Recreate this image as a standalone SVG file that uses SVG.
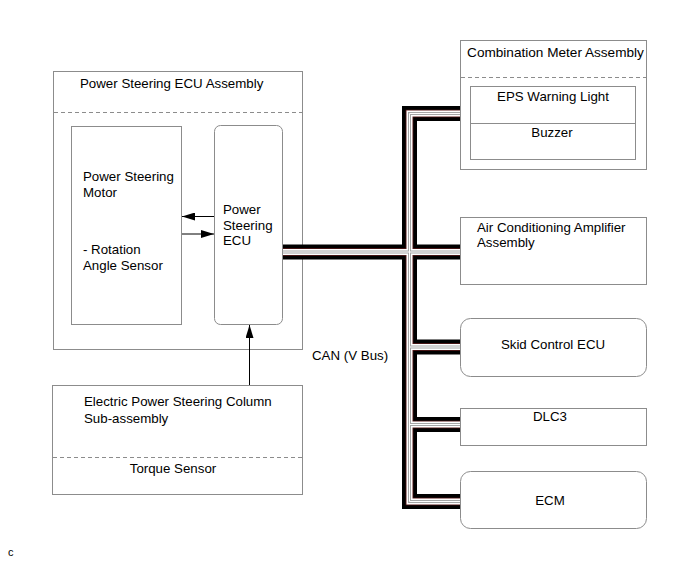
<svg xmlns="http://www.w3.org/2000/svg" xmlns:xlink="http://www.w3.org/1999/xlink" width="694" height="562" viewBox="0 0 694 562">
<style>
text{font-family:"Liberation Sans",Arial,sans-serif;font-size:13.3px;fill:#000}
.box{fill:#fff;stroke:#8c8c8c;stroke-width:1}
.frame{fill:none;stroke:#8c8c8c;stroke-width:1}
.dash{fill:none;stroke:#8c8c8c;stroke-width:1;stroke-dasharray:4,3}
.solid{fill:none;stroke:#8c8c8c;stroke-width:1}
.mid{text-anchor:middle}
.arr{stroke:#000;stroke-width:1;fill:none;marker-end:url(#ah)}
.bus{fill:none;stroke-linejoin:miter;stroke-linecap:butt}
</style>
<defs>
<marker id="ah" markerUnits="userSpaceOnUse" markerWidth="13" markerHeight="8" refX="13" refY="4" orient="auto">
<path d="M0,0 L13,4 L0,8 z" fill="#000"/>
</marker>
<path id="busPath" d="M460,113.5 H409.5 V501.5 H460 M283,252 H460 M409.5,347 H460 M409.5,424.5 H460"/>
</defs>
<rect width="694" height="562" fill="#fff"/>

<g id="ps-ecu-assembly">
<rect class="frame" x="53.5" y="71.5" width="249" height="278"/>
<line class="dash" x1="54" y1="112.5" x2="302" y2="112.5"/>
<text x="80" y="88">Power Steering ECU Assembly</text>
</g>

<g id="ps-motor">
<rect class="box" x="71.5" y="126.5" width="110" height="198"/>
<text x="83" y="181">Power Steering</text>
<text x="83" y="197">Motor</text>
<text x="83" y="254">- Rotation</text>
<text x="83" y="270">Angle Sensor</text>
</g>

<g id="ps-ecu">
<rect class="box" x="214.5" y="125.5" width="68" height="199" rx="6" ry="6"/>
<text x="223" y="214">Power</text>
<text x="223" y="229.5">Steering</text>
<text x="223" y="245">ECU</text>
</g>

<g id="column">
<rect class="box" x="52.5" y="385.5" width="250" height="109"/>
<line class="dash" x1="53" y1="457.5" x2="302" y2="457.5"/>
<text x="84" y="406">Electric Power Steering Column</text>
<text x="84" y="423">Sub-assembly</text>
<text class="mid" x="173" y="473">Torque Sensor</text>
</g>

<g id="combination-meter">
<rect class="box" x="460.5" y="40.5" width="186" height="129"/>
<line class="dash" x1="461" y1="77.5" x2="646" y2="77.5"/>
<text class="mid" x="555.5" y="57" style="font-size:13.6px">Combination Meter Assembly</text>
<rect class="box" x="470.5" y="86.5" width="165" height="73"/>
<line class="solid" x1="471" y1="123.5" x2="635" y2="123.5"/>
<text class="mid" x="553" y="100.5">EPS Warning Light</text>
<text class="mid" x="552" y="137">Buzzer</text>
</g>

<g id="ac-amplifier">
<rect class="box" x="460.5" y="217.5" width="186" height="67"/>
<text x="477" y="232">Air Conditioning Amplifier</text>
<text x="477" y="247">Assembly</text>
</g>

<g id="skid-control">
<rect class="box" x="460.5" y="318.5" width="186" height="58" rx="10" ry="10"/>
<text class="mid" x="553" y="349">Skid Control ECU</text>
</g>

<g id="dlc3">
<rect class="box" x="460.5" y="408.5" width="186" height="37"/>
<text class="mid" x="550" y="421">DLC3</text>
</g>

<g id="ecm">
<rect class="box" x="460.5" y="471.5" width="186" height="57" rx="10" ry="10"/>
<text class="mid" x="550" y="504.5">ECM</text>
</g>

<g id="connectors">
<use xlink:href="#busPath" class="bus" stroke="#000" stroke-width="15"/>
<use xlink:href="#busPath" class="bus" stroke="#5e1c1c" stroke-width="7.6"/>
<use xlink:href="#busPath" class="bus" stroke="#fff" stroke-width="6"/>
<use xlink:href="#busPath" class="bus" stroke="#a6a6a6" stroke-width="3"/>
<use xlink:href="#busPath" class="bus" stroke="#fff" stroke-width="1"/>
<line class="arr" x1="214" y1="216.5" x2="182" y2="216.5"/>
<line class="arr" x1="182" y1="234" x2="214" y2="234"/>
<line class="arr" x1="249.5" y1="385" x2="249.5" y2="325"/>
<text x="312" y="360">CAN (V Bus)</text>
</g>

<text x="8" y="556" style="font-size:11px">c</text>
</svg>
